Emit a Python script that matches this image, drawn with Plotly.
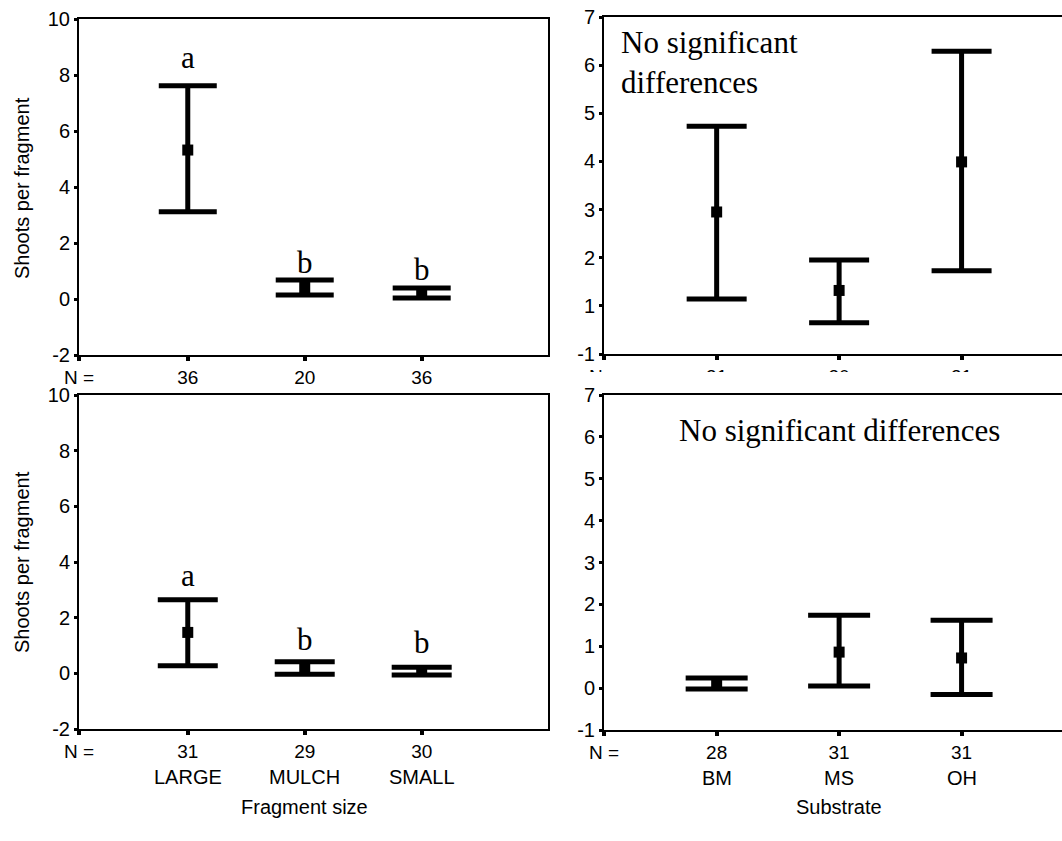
import plotly.graph_objects as go

# ---------------- data ----------------
size_cats = ["LARGE", "MULCH", "SMALL"]
substrate_cats = ["BM", "MS", "OH"]

# top-left: fragment size (experiment 1)
a_n = ["36", "20", "36"]
a_mean = [5.32, 0.41, 0.21]
a_upper = [7.62, 0.68, 0.39]
a_lower = [3.12, 0.14, 0.04]
a_letters = ["a", "b", "b"]
a_letter_y = [8.64, 1.32, 1.04]

# top-right: substrate (experiment 1)
b_n = ["31", "30", "31"]
b_mean = [2.95, 1.32, 3.99]
b_upper = [4.73, 1.95, 6.29]
b_lower = [1.14, 0.65, 1.73]
b_ytickvals = [0, 1, 2, 3, 4, 5, 6, 7]
b_yticktext = ["-1", "1", "2", "3", "4", "5", "6", "7"]

# bottom-left: fragment size (experiment 2)
c_n = ["31", "29", "30"]
c_mean = [1.47, 0.19, 0.08]
c_upper = [2.64, 0.42, 0.22]
c_lower = [0.27, -0.03, -0.06]
c_letters = ["a", "b", "b"]
c_letter_y = [3.53, 1.20, 1.09]

# bottom-right: substrate (experiment 2)
d_n = ["28", "31", "31"]
d_mean = [0.11, 0.86, 0.72]
d_upper = [0.24, 1.74, 1.62]
d_lower = [-0.02, 0.05, -0.15]

size_yticks = [-2, 0, 2, 4, 6, 8, 10]
sub_yticks = [-1, 0, 1, 2, 3, 4, 5, 6, 7]

W, H = 1062, 841
SANS = "Liberation Sans, Arial, sans-serif"
SERIF = "Liberation Serif, Times New Roman, serif"

fig = go.Figure()

positions = [1, 2, 3]


def add_panel(idx, mean, upper, lower, capw):
    xa = "x" if idx == 1 else f"x{idx}"
    ya = "y" if idx == 1 else f"y{idx}"
    fig.add_trace(go.Scatter(
        x=positions, y=mean, mode="markers", xaxis=xa, yaxis=ya,
        marker=dict(symbol="square", size=11, color="black"),
        error_y=dict(type="data", symmetric=False,
                     array=[u - m for u, m in zip(upper, mean)],
                     arrayminus=[m - l for m, l in zip(mean, lower)],
                     color="black", thickness=5, width=capw),
        showlegend=False, hoverinfo="skip"))


add_panel(1, a_mean, a_upper, a_lower, 29)
add_panel(2, b_mean, b_upper, b_lower, 30)
add_panel(3, c_mean, c_upper, c_lower, 30)
add_panel(4, d_mean, d_upper, d_lower, 31)

left_range = [0.07, 4.08]
right_range = [0.08, 3.82]

xdom_left = [79 / W, 548 / W]
xdom_right = [604 / W, 1.0]


def ydom(top_px, bot_px):
    return [1 - bot_px / H, 1 - top_px / H]


def xaxis_cfg(dom, rng, nlist, anchor):
    return dict(domain=dom, range=rng, anchor=anchor, automargin=False,
                tickvals=[rng[0] + 1e-6] + positions,
                ticktext=["N ="] + nlist,
                ticks="outside", ticklen=4, tickwidth=4, tickcolor="black",
                showline=True, linecolor="black", linewidth=2, mirror=True,
                showgrid=False, zeroline=False,
                tickfont=dict(family=SANS, size=19, color="black"))


def yaxis_cfg(dom, rng, tv, tt, anchor, mirror):
    return dict(domain=dom, range=rng, anchor=anchor, automargin=False,
                tickvals=tv, ticktext=tt,
                ticks="outside", ticklen=3, tickwidth=3, tickcolor="black",
                showline=True, linecolor="black", linewidth=2, mirror=mirror,
                showgrid=False, zeroline=False,
                tickfont=dict(family=SANS, size=20, color="black"))


fig.update_layout(
    width=W, height=H, margin=dict(l=0, r=0, t=0, b=0, autoexpand=False),
    paper_bgcolor="white", plot_bgcolor="white", showlegend=False,
    xaxis=xaxis_cfg(xdom_left, left_range, a_n, "y"),
    yaxis=yaxis_cfg(ydom(19, 355), [-2, 10], size_yticks,
                    [str(v) for v in size_yticks], "x", True),
    xaxis2=xaxis_cfg(xdom_right, right_range, b_n, "y2"),
    yaxis2=yaxis_cfg(ydom(17, 354), [0, 7], b_ytickvals, b_yticktext, "x2", False),
    xaxis3=xaxis_cfg(xdom_left, left_range, c_n, "y3"),
    yaxis3=yaxis_cfg(ydom(395, 729), [-2, 10], size_yticks,
                     [str(v) for v in size_yticks], "x3", True),
    xaxis4=xaxis_cfg(xdom_right, right_range, d_n, "y4"),
    yaxis4=yaxis_cfg(ydom(395, 730), [-1, 7], sub_yticks,
                     [str(v) for v in sub_yticks], "x4", False),
)

ann = []
# significance letters
for xa, ya, letters, ys in [("x", "y", a_letters, a_letter_y),
                            ("x3", "y3", c_letters, c_letter_y)]:
    for p, t, yv in zip(positions, letters, ys):
        ann.append(dict(x=p, y=yv, xref=xa, yref=ya, text=t, showarrow=False,
                        xanchor="center", yanchor="middle",
                        font=dict(family=SERIF, size=31, color="black")))

ann.append(dict(x=0.2, y=6.06, xref="x2", yref="y2",
                text="No significant<br>differences", showarrow=False,
                xanchor="left", yanchor="middle", align="left",
                font=dict(family=SERIF, size=31, color="black")))
ann.append(dict(x=2, y=6.16, xref="x4", yref="y4",
                text="No significant differences", showarrow=False,
                xanchor="center", yanchor="middle",
                font=dict(family=SERIF, size=31, color="black")))

# category names under bottom panels
for xa, ya, cats in [("x3", "y3 domain", size_cats), ("x4", "y4 domain", substrate_cats)]:
    for p, c in zip(positions, cats):
        ann.append(dict(x=p, y=0, xref=xa, yref=ya, text=c, showarrow=False,
                        xanchor="center", yanchor="middle", yshift=-48,
                        font=dict(family=SANS, size=20, color="black")))

# axis titles
ann.append(dict(x=2, y=0, xref="x3", yref="y3 domain", text="Fragment size",
                showarrow=False, xanchor="center", yanchor="middle", yshift=-78,
                font=dict(family=SANS, size=20, color="black")))
ann.append(dict(x=2, y=0, xref="x4", yref="y4 domain", text="Substrate",
                showarrow=False, xanchor="center", yanchor="middle", yshift=-77,
                font=dict(family=SANS, size=20, color="black")))
for yc in [188, 562]:
    ann.append(dict(x=22 / W, y=1 - yc / H, xref="paper", yref="paper",
                    text="Shoots per fragment", showarrow=False, textangle=-90,
                    xanchor="center", yanchor="middle",
                    font=dict(family=SANS, size=20, color="black")))

fig.update_layout(annotations=ann)

# the N row of the upper-right panel is cut off in the original
fig.add_shape(type="rect", xref="paper", yref="paper",
              x0=560 / W, x1=1.0, y0=1 - 386 / H, y1=1 - 372 / H,
              fillcolor="white", line=dict(width=0), layer="above")

fig.write_html("out.html")
